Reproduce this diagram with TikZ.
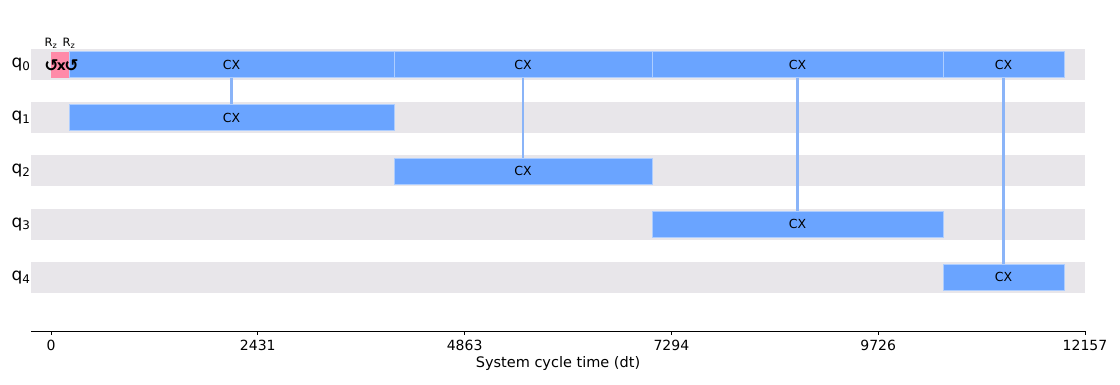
\documentclass[tikz,border=0pt]{standalone}
\usepackage{fontspec}
\setmainfont{DejaVu Sans}
\usetikzlibrary{positioning}
\definecolor{cxblue}{HTML}{6AA4FF}
\definecolor{linkblue}{HTML}{8AB4F8}
\definecolor{sxpink}{HTML}{FF8AA8}
\definecolor{bandgrey}{HTML}{E8E6EA}

\begin{document}
\begin{tikzpicture}[x=1pt,y=-1pt]
 	\tikzstyle{band}=[rectangle, fill=bandgrey, minimum height=31pt, minimum width=1054pt, inner sep=0pt, anchor=west]
 	\tikzstyle{cx}=[rectangle, fill=cxblue, draw=cxblue!55!white, line width=0.6pt, minimum height=26pt, inner sep=0pt, font=\fontsize{12.5}{13}\selectfont]
 	\tikzstyle{sx}=[rectangle, fill=sxpink, minimum height=26pt, minimum width=18pt, inner sep=0pt]
 	\tikzstyle{rz}=[inner sep=0pt, font=\bfseries\fontsize{17}{17}\selectfont]
 	\tikzstyle{link}=[linkblue, line width=2.6pt]
 	\tikzstyle{qlabel}=[inner sep=0pt, font=\fontsize{17}{17}\selectfont]
 	\tikzstyle{ticklabel}=[inner sep=0pt, font=\fontsize{14}{14}\selectfont]
 	\useasboundingbox (0,0) rectangle (1120,384);
 	% qubit rows
 	\foreach \i in {0,...,4} {
 		\node[band] (band\i) at (31,{64.5+53.2*\i}) {};
 		\node[qlabel] (q\i) at (21,{64.5+53.2*\i}) {q\textsubscript{\i}};
 	}
 	% q0 gates
 	\node[sx] (sx0) at (60,64.5) {};
 	\node[cx, minimum width=325pt] (cxa0) at (231.5,64.5) {CX};
 	\node[cx, minimum width=258pt] (cxb0) at (523,64.5) {CX};
 	\node[cx, minimum width=291pt] (cxc0) at (797.5,64.5) {CX};
 	\node[cx, minimum width=121pt] (cxd0) at (1003.5,64.5) {CX};
 	\node[rz] (rza) at (51.5,65.5) {↺};
 	\node[rz] (rzb) at (71.5,65.5) {↺};
 	\node[rz, font=\bfseries\fontsize{14}{14}\selectfont] (sxx) at (61.5,66.5) {x};
 	\node[inner sep=0pt, font=\fontsize{11.5}{12}\selectfont] (rzla) at (51,43) {R\textsubscript{z}};
 	\node[inner sep=0pt, font=\fontsize{11.5}{12}\selectfont] (rzlb) at (69,43) {R\textsubscript{z}};
 	% targets
 	\node[cx, minimum width=325pt] (cxa1) at (231.5,117.7) {CX};
 	\node[cx, minimum width=258pt] (cxb2) at (523,170.9) {CX};
 	\node[cx, minimum width=291pt] (cxc3) at (797.5,224.1) {CX};
 	\node[cx, minimum width=121pt] (cxd4) at (1003.5,277.3) {CX};
 	\path (cxa0.south) edge [link] (cxa1.north)
 	(cxb0.south) edge [link] (cxb2.north)
 	(cxc0.south) edge [link] (cxc3.north)
 	(cxd0.south) edge [link] (cxd4.north);
 	% time axis
 	\coordinate (axl) at (31,331);
 	\coordinate (axr) at (1085,331);
 	\draw[line width=0.9pt] (axl) -- (axr);
 	\foreach \t/\xx in {0/51, 2431/257.8, 4863/464.6, 7294/671.4, 9726/878.2, 12157/1085} {
 		\coordinate (tk\t) at (\xx,331);
 		\draw[line width=0.8pt] (tk\t) -- ++(0,4);
 		\node[ticklabel] (tl\t) at (\xx,345) {\t};
 	}
 	\node[inner sep=0pt, font=\fontsize{14.5}{15}\selectfont] (xlabel) at (558,363) {System cycle time (dt)};
\end{tikzpicture}
\end{document}
